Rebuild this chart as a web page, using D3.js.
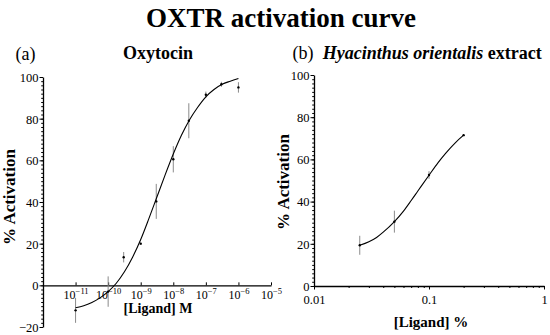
<!DOCTYPE html>
<html><head><meta charset="utf-8">
<script src="https://cdn.jsdelivr.net/npm/d3@7"></script>
<style>
html,body{margin:0;padding:0;background:#fff;}
svg text, svg tspan{font-family:"Liberation Serif","Times New Roman",serif !important;fill:#000;}
</style></head>
<body><svg id="c" width="550" height="335"></svg>
<script>
// ---- Data: panel (a) Oxytocin ----
const oxyConc = [1e-11, 1e-10, 3e-10, 1e-9, 3e-9, 1e-8, 3e-8, 1e-7, 3e-7, 1e-6];
const oxyMean = [-12, -3, 13.5, 20, 40.3, 60.5, 79, 91.5, 96.5, 95];
const oxyErr  = [6, 7.3, 2.5, 0.5, 8.4, 6.3, 8.4, 1.5, 1.2, 2.5];
const oxyCurveLog = [-11,-10.75,-10.5,-10.25,-10,-9.75,-9.5,-9.25,-9,-8.75,-8.5,-8.25,-8,-7.75,-7.5,-7.25,-7,-6.75,-6.5,-6.25,-6];
const oxyCurveVal = [-10.8,-9.8,-8.2,-6.0,-3.0,1.0,6.5,13.5,22,32,42.5,53,63,72,79.5,85.5,90.5,94,96.5,98,99.3];
const oxyTicksX = [1e-11,1e-10,1e-9,1e-8,1e-7,1e-6,1e-5];
const oxyTicksY = [-20,0,20,40,60,80,100];

// ---- Data: panel (b) Hyacinthus orientalis extract ----
const hyaConc = [0.025, 0.05, 0.1, 0.2];
const hyaMean = [19.3, 30.5, 52.6, 71.5];
const hyaErr  = [4.5, 5.2, 1.8, 0.4];
const hyaCurveConc = [0.025,0.03,0.035,0.04,0.05,0.06,0.07,0.08,0.1,0.12,0.14,0.17,0.2];
const hyaCurveVal  = [19.3,21,23,25.5,30.5,35.5,40.5,45,52.5,58.5,63,68,71.5];
const hyaTicksX = [0.01, 0.1, 1];
const hyaTicksY = [0,20,40,60,80,100];

const FONT = '"Liberation Serif","Times New Roman",serif';
const svg = d3.select("#c");

// Title
svg.append("text").attr("x",281).attr("y",27).attr("text-anchor","middle")
  .style("font-size","27px").style("font-weight","bold").text("OXTR activation curve");

function yAxes(g, y, x0, major, lo, hi){
  const minor = d3.range(lo, hi+0.001, 2);
  g.append("g").attr("transform",`translate(${x0},0)`)
    .call(d3.axisLeft(y).tickValues(minor).tickSize(1.8).tickSizeOuter(0).tickFormat(""))
    .call(a=>a.select(".domain").remove())
    .call(a=>a.selectAll("line").attr("stroke","#000"));
  const ax = g.append("g").attr("transform",`translate(${x0},0)`)
    .call(d3.axisLeft(y).tickValues(major).tickSize(3.5).tickSizeOuter(0).tickPadding(1))
    .attr("font-family",FONT);
  ax.selectAll("text").style("font-size","12.5px").style("font-family",FONT).attr("dy","0.35em");
  ax.select(".domain").attr("stroke-width",1.3);
}

// ---------- Panel (a) ----------
const xa = d3.scaleLog().domain([1e-12,1e-5]).range([43,271]);
const ya = d3.scaleLinear().domain([-20,100]).range([327,77]);
const ga = svg.append("g");
yAxes(ga, ya, 43, oxyTicksY, -20, 100);
const axA = ga.append("g").attr("transform",`translate(0,${ya(0)})`)
  .call(d3.axisBottom(xa).tickValues(oxyTicksX).tickSizeInner(-3).tickSizeOuter(0).tickFormat(""))
  .attr("font-family",FONT);
axA.select(".domain").attr("stroke-width",1.2);
axA.selectAll(".tick").append("text").attr("y",14).attr("text-anchor","middle")
  .style("font-size","12px").style("font-family",FONT)
  .each(function(d){
    const e = Math.round(Math.log10(d));
    const t = d3.select(this);
    t.append("tspan").text("10");
    t.append("tspan").attr("dy",-5).style("font-size","8.5px").text("\u2212"+Math.abs(e));
  });

// error bars
ga.selectAll(".eb").data(oxyConc).join("line")
  .attr("x1",(d)=>xa(d)).attr("x2",(d)=>xa(d))
  .attr("y1",(d,i)=>ya(oxyMean[i]-oxyErr[i])).attr("y2",(d,i)=>ya(oxyMean[i]+oxyErr[i]))
  .attr("stroke","#8a8a8a").attr("stroke-width",1);
// curve
const lineA = d3.line().x((d,i)=>xa(Math.pow(10,d))).y((d,i)=>ya(oxyCurveVal[i])).curve(d3.curveMonotoneX);
ga.append("path").attr("d",lineA(oxyCurveLog)).attr("fill","none").attr("stroke","#000").attr("stroke-width",1.1);
ga.selectAll(".pt").data(oxyConc).join("circle")
  .attr("cx",d=>xa(d)).attr("cy",(d,i)=>ya(oxyMean[i])).attr("r",1.2).attr("fill","#000");

svg.append("text").attr("x",15.5).attr("y",60).style("font-size","18px").text("(a)");
svg.append("text").attr("x",158).attr("y",59).attr("text-anchor","middle")
  .style("font-size","18px").style("font-weight","bold").text("Oxytocin");
svg.append("text").attr("transform","translate(15,197) rotate(-90)").attr("text-anchor","middle")
  .style("font-size","17px").style("font-weight","bold").text("% Activation");
svg.append("text").attr("x",158).attr("y",313).attr("text-anchor","middle")
  .style("font-size","14px").style("font-weight","bold").text("[Ligand] M");

// ---------- Panel (b) ----------
const xb = d3.scaleLog().domain([0.01,1]).range([314,544]);
const yb = d3.scaleLinear().domain([0,100]).range([286,75]);
const gb = svg.append("g");
yAxes(gb, yb, 314, hyaTicksY, 0, 100);
const minorB = [];
[0.01,0.1].forEach(b=>{for(let k=2;k<=9;k++) minorB.push(b*k);});
gb.append("g").attr("transform",`translate(0,${yb(0)})`)
  .call(d3.axisBottom(xb).tickValues(minorB).tickSize(2).tickSizeOuter(0).tickFormat(""))
  .call(a=>a.select(".domain").remove());
const axB = gb.append("g").attr("transform",`translate(0,${yb(0)})`)
  .call(d3.axisBottom(xb).tickValues(hyaTicksX).tickSize(3.5).tickSizeOuter(0).tickPadding(6)
    .tickFormat(d=>String(d)))
  .attr("font-family",FONT);
axB.select(".domain").attr("stroke-width",1.3);
axB.selectAll("text").style("font-size","12.5px").style("font-family",FONT);

gb.selectAll(".eb").data(hyaConc).join("line")
  .attr("x1",d=>xb(d)).attr("x2",d=>xb(d))
  .attr("y1",(d,i)=>yb(hyaMean[i]-hyaErr[i])).attr("y2",(d,i)=>yb(hyaMean[i]+hyaErr[i]))
  .attr("stroke","#8a8a8a").attr("stroke-width",1);
const lineB = d3.line().x(d=>xb(d)).y((d,i)=>yb(hyaCurveVal[i])).curve(d3.curveMonotoneX);
gb.append("path").attr("d",lineB(hyaCurveConc)).attr("fill","none").attr("stroke","#000").attr("stroke-width",1.1);
gb.selectAll(".pt").data(hyaConc).join("circle")
  .attr("cx",d=>xb(d)).attr("cy",(d,i)=>yb(hyaMean[i])).attr("r",1.2).attr("fill","#000");

const tb = svg.append("text").attr("x",292.5).attr("y",59).style("font-size","18px");
tb.append("tspan").text("(b)  ");
tb.append("tspan").attr("x",322.7).style("font-weight","bold").style("font-style","italic").text("Hyacinthus orientalis");
tb.append("tspan").style("font-weight","bold").text(" extract");
svg.append("text").attr("transform","translate(289,182) rotate(-90)").attr("text-anchor","middle")
  .style("font-size","17px").style("font-weight","bold").text("% Activation");
svg.append("text").attr("x",431).attr("y",327).attr("text-anchor","middle")
  .style("font-size","15px").style("font-weight","bold").text("[Ligand] %");
</script></body></html>
